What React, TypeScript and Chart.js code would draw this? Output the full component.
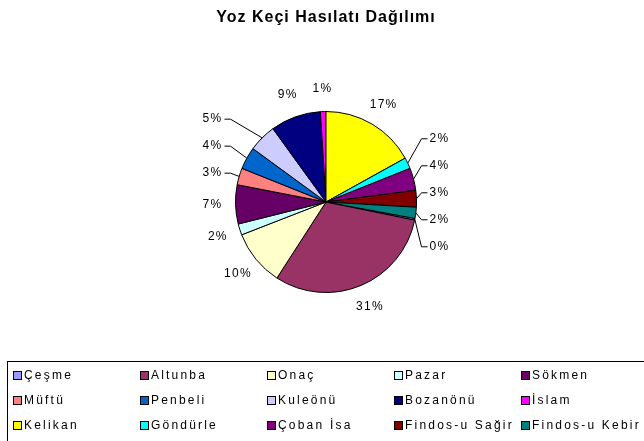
import React, { useEffect, useRef } from 'react';
import { Chart, registerables } from 'chart.js';

Chart.register(...registerables);

const chartTitle = 'Yoz Keçi Hasılatı Dağılımı';
const categories = [
  'Çeşme', 'Altunba', 'Onaç', 'Pazar', 'Sökmen',
  'Müftü', 'Penbeli', 'Kuleönü', 'Bozanönü', 'İslam',
  'Kelikan', 'Göndürle', 'Çoban İsa', 'Findos-u Sağir', 'Findos-u Kebir',
];
const values = [0.3, 31, 10, 2, 7, 3, 4, 5, 9, 1, 17, 2, 4, 3, 2];
const colors = [
  '#9999FF', '#993366', '#FFFFCC', '#CCFFFF', '#660066',
  '#FF8080', '#0066CC', '#CCCCFF', '#000080', '#FF00FF',
  '#FFFF00', '#00FFFF', '#800080', '#800000', '#008080',
];
const topSliceName = 'Kelikan';

const total = values.reduce((a, b) => a + b, 0);
const beforeTop = values.slice(0, categories.indexOf(topSliceName)).reduce((a, b) => a + b, 0);
const rotationDeg = -(beforeTop / total) * 360;

const FONT = '"Liberation Sans", Arial, sans-serif';

const excelPlugin = {
  id: 'excelDecor',
  afterDraw(chart: any) {
    const ctx: CanvasRenderingContext2D = chart.ctx;
    const meta = chart.getDatasetMeta(0);
    // Title
    ctx.save();
    ctx.fillStyle = '#000';
    ctx.font = `bold 16px ${FONT}`;
    (ctx as any).letterSpacing = '1px';
    ctx.textAlign = 'center';
    ctx.textBaseline = 'middle';
    ctx.fillText(chartTitle, chart.width / 2 + 4, 18);
    ctx.restore();

    // Percentage labels
    const items = meta.data.map((arc: any, i: number) => {
      const p = arc.getProps(['x', 'y', 'startAngle', 'endAngle', 'outerRadius'], true);
      const mid = (p.startAngle + p.endAngle) / 2;
      const R = p.outerRadius + 23;
      return {
        i,
        cx: p.x,
        cy: p.y,
        r: p.outerRadius,
        mid,
        x: p.x + R * Math.cos(mid),
        y: p.y + R * Math.sin(mid),
        ny: p.y + R * Math.sin(mid),
        side: Math.cos(mid) >= 0 ? 1 : -1,
        text: Math.round((values[i] / total) * 100) + '%',
        leader: false,
      };
    });

    const GAP = 27;
    for (const side of [1, -1]) {
      const list = items
        .filter((it: any) => it.side === side && Math.abs(Math.cos(it.mid)) > 0.5)
        .sort((a: any, b: any) => a.ny - b.ny);
      const clusters: any[] = [];
      for (const it of list) {
        clusters.push({ items: [it], mean: it.ny });
        while (clusters.length > 1) {
          const b = clusters[clusters.length - 1];
          const a = clusters[clusters.length - 2];
          const aBottom = a.mean + ((a.items.length - 1) * GAP) / 2;
          const bTop = b.mean - ((b.items.length - 1) * GAP) / 2;
          if (bTop - aBottom < GAP) {
            const all = a.items.concat(b.items);
            const mean = all.reduce((s: number, q: any) => s + q.ny, 0) / all.length;
            clusters.splice(clusters.length - 2, 2, { items: all, mean });
          } else break;
        }
      }
      for (const c of clusters) {
        if (c.items.length < 2) continue;
        const top = c.mean - ((c.items.length - 1) * GAP) / 2;
        c.items.forEach((it: any, k: number) => {
          it.y = top + k * GAP;
          it.leader = true;
        });
      }
    }

    ctx.save();
    ctx.fillStyle = '#000';
    ctx.strokeStyle = '#000';
    ctx.lineWidth = 1;
    ctx.font = `12px ${FONT}`;
    (ctx as any).letterSpacing = '1.3px';
    ctx.textBaseline = 'middle';
    for (const it of items) {
      if (!it.leader) {
        ctx.textAlign = 'center';
        ctx.fillText(it.text, it.x, it.y);
      } else {
        const edge = it.cx + it.side * (it.r + 13);
        const ax = it.cx + it.r * Math.cos(it.mid);
        const ay = it.cy + it.r * Math.sin(it.mid);
        ctx.beginPath();
        ctx.moveTo(edge - it.side * 2, it.y);
        ctx.lineTo(edge - it.side * 8, it.y);
        ctx.lineTo(ax, ay);
        ctx.stroke();
        ctx.textAlign = it.side > 0 ? 'left' : 'right';
        ctx.fillText(it.text, edge, it.y);
      }
    }
    ctx.restore();

    // Legend
    ctx.save();
    ctx.strokeStyle = '#000';
    ctx.lineWidth = 1;
    ctx.strokeRect(7.5, 361.5, 700, 120);
    ctx.font = `12px ${FONT}`;
    (ctx as any).letterSpacing = '2.2px';
    ctx.textBaseline = 'middle';
    ctx.textAlign = 'left';
    const colW = 127;
    const x0 = 13;
    const y0 = 376;
    const rowH = 25;
    categories.forEach((name, i) => {
      const col = i % 5;
      const row = Math.floor(i / 5);
      const x = x0 + col * colW;
      const y = y0 + row * rowH;
      ctx.fillStyle = colors[i];
      ctx.fillRect(x + 0.5, y - 4.5, 8, 8);
      ctx.strokeRect(x + 0.5, y - 4.5, 8, 8);
      ctx.fillStyle = '#000';
      ctx.fillText(name, x + 11, y);
    });
    ctx.restore();
  },
};

export default function App() {
  const ref = useRef<HTMLCanvasElement>(null);
  useEffect(() => {
    if (!ref.current) return;
    const chart = new Chart(ref.current, {
      type: 'pie',
      data: {
        labels: categories,
        datasets: [
          {
            data: values,
            backgroundColor: colors,
            borderColor: '#000',
            borderWidth: 1,
          },
        ],
      },
      options: {
        responsive: false,
        animation: false,
        rotation: rotationDeg,
        layout: { padding: { left: 235, right: 227, top: 111, bottom: 148 } },
        plugins: {
          legend: { display: false },
          title: { display: false },
          tooltip: { enabled: false },
        },
      },
      plugins: [excelPlugin],
    } as any);
    return () => chart.destroy();
  }, []);
  return (
    <div style={{ position: 'absolute', left: 0, top: 0, width: 644, height: 441, background: '#fff' }}>
      <canvas ref={ref} width={644} height={441} style={{ display: 'block' }} />
    </div>
  );
}
